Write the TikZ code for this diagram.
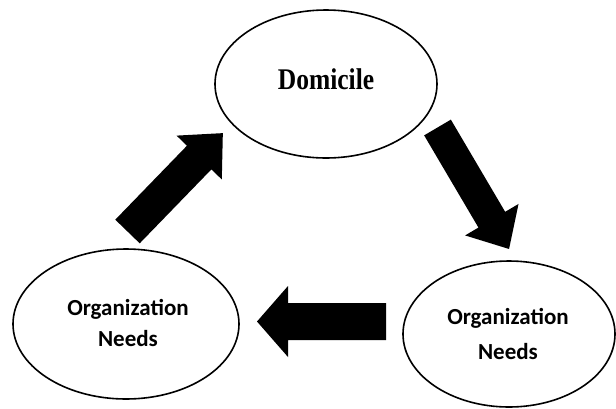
\documentclass[tikz,border=0pt]{standalone}
\usepackage{fontspec}
\usetikzlibrary{shapes.geometric}
\newfontfamily\domfont{Liberation Serif}
\newfontfamily\orgfont{Carlito}
\tikzset{
  bubble/.style={draw=black, line width=1.6pt, ellipse, inner sep=0pt},
  domtext/.style={font=\domfont\bfseries\fontsize{30}{32}\selectfont, xscale=0.85},
  orgtext/.style={font=\orgfont\bfseries\fontsize{23}{#1}\selectfont, align=center},
  pics/barrow/.style n args={4}{code={
    \fill[black] (0,-#2) -- (#1-#4,-#2) -- (#1-#4,-#3) -- (#1,0) -- (#1-#4,#3) -- (#1-#4,#2) -- (0,#2) -- cycle;}}
}
\begin{document}
\begin{tikzpicture}[x=1pt,y=-1pt]
\useasboundingbox (0,0) rectangle (616,408);
% ellipses
\node[bubble, minimum width=222pt, minimum height=148pt] (dom) at (326,84) {};
\node[bubble, minimum width=226pt, minimum height=150pt] (orgL) at (126,324) {};
\node[bubble, minimum width=212pt, minimum height=146pt] (orgR) at (509,334) {};
% texts
\node[domtext, anchor=base] (domT) at (326,89) {Domicile};
\node[orgtext=31] (orgLT) at (128,323) {Organization\\Needs};
\node[orgtext=35] (orgRT) at (508,334) {Organization\\Needs};
% block arrows
\pic[rotate=45.9] at (127.5,231.5) {barrow={137}{17}{31.5}{34}};
\pic[rotate=-59.5] at (437.5,127.5) {barrow={141}{15.5}{31}{34}};
\pic[rotate=180] at (386,321.5) {barrow={129}{18.5}{35.5}{31}};
\end{tikzpicture}
\end{document}
